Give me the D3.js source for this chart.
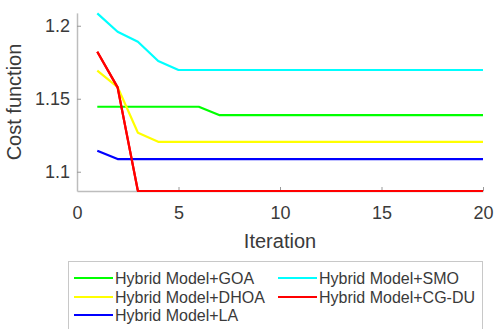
<!DOCTYPE html>
<html><head><meta charset="utf-8">
<script src="https://cdn.jsdelivr.net/npm/d3@7"></script>
<style>body{margin:0;background:#fff}svg{display:block}text{font-family:"Liberation Sans",Arial,sans-serif}</style>
</head><body>
<script>
const iterations = d3.range(1, 21);
const seriesNames = ["Hybrid Model+GOA","Hybrid Model+SMO","Hybrid Model+DHOA","Hybrid Model+CG-DU","Hybrid Model+LA"];
const seriesColors = ["#00ff00","#00ffff","#ffff00","#ff0000","#0000ff"];
const goa  = [1.1445,1.1445,1.1445,1.1445,1.1445,1.1445,1.1388,1.1388,1.1388,1.1388,1.1388,1.1388,1.1388,1.1388,1.1388,1.1388,1.1388,1.1388,1.1388,1.1388];
const smo  = [1.2085,1.1959,1.189,1.1758,1.1697,1.1697,1.1697,1.1697,1.1697,1.1697,1.1697,1.1697,1.1697,1.1697,1.1697,1.1697,1.1697,1.1697,1.1697,1.1697];
const dhoa = [1.1692,1.158,1.1267,1.1205,1.1205,1.1205,1.1205,1.1205,1.1205,1.1205,1.1205,1.1205,1.1205,1.1205,1.1205,1.1205,1.1205,1.1205,1.1205,1.1205];
const cgdu = [1.1822,1.1578,1.0868,1.0868,1.0868,1.0868,1.0868,1.0868,1.0868,1.0868,1.0868,1.0868,1.0868,1.0868,1.0868,1.0868,1.0868,1.0868,1.0868,1.0868];
const la   = [1.1144,1.1087,1.1087,1.1087,1.1087,1.1087,1.1087,1.1087,1.1087,1.1087,1.1087,1.1087,1.1087,1.1087,1.1087,1.1087,1.1087,1.1087,1.1087,1.1087];
const seriesValues = [goa, smo, dhoa, cgdu, la];
const xTicks = [0,5,10,15,20];
const yTicks = [1.1,1.15,1.2];
const yTickLabels = ["1.1","1.15","1.2"];

const W = 496, H = 329;
const svg = d3.select("body").append("svg").attr("width", W).attr("height", H);
const x = d3.scaleLinear().domain([0,20]).range([77,483]);
const y = d3.scaleLinear().domain([1.0868,1.2088]).range([191,12.9]);
const axisColor = "#bdbdbd", textColor = "#3a3a3a";

// lines
const line = d3.line().x((d,i)=>x(iterations[i])).y(d=>y(d));
seriesValues.forEach((vals,k)=>{
  svg.append("path").datum(vals).attr("d", line).attr("fill","none")
    .attr("stroke", seriesColors[k]).attr("stroke-width", 2.2).attr("stroke-linejoin","round");
});
// draw red last? Order in original: red drawn over others
// axes
const xAxis = svg.append("g").attr("transform", `translate(0,${y.range()[0]})`)
  .call(d3.axisBottom(x).tickValues(xTicks).tickSizeInner(-4).tickSizeOuter(0).tickPadding(15));
const yAxis = svg.append("g").attr("transform", `translate(${x.range()[0]},0)`)
  .call(d3.axisLeft(y).tickValues(yTicks).tickFormat((d,i)=>yTickLabels[i]).tickSizeInner(-4).tickSizeOuter(0).tickPadding(7));
[xAxis, yAxis].forEach(g=>{
  g.select(".domain").attr("stroke", axisColor).attr("stroke-width", 1.5);
  g.selectAll(".tick line").attr("stroke", "#999").attr("stroke-width", 1);
  g.selectAll(".tick text").attr("fill", textColor).style("font-size","18px").style("font-family",'"Liberation Sans",Arial,sans-serif');
});
// redraw red line above axis
svg.append("path").datum(cgdu).attr("d", line).attr("fill","none")
  .attr("stroke", seriesColors[3]).attr("stroke-width", 2.2).attr("stroke-linejoin","round");

svg.append("text").attr("x", 280).attr("y", 248).attr("text-anchor","middle")
  .attr("fill", textColor).style("font-size","20px").text("Iteration");
svg.append("text").attr("transform","translate(21,102) rotate(-90)").attr("text-anchor","middle")
  .attr("fill", textColor).style("font-size","20px").text("Cost function");

// legend
const lg = svg.append("g");
lg.append("rect").attr("x",68.5).attr("y",261.5).attr("width",414).attr("height",75)
  .attr("fill","#fff").attr("stroke","#c8c8c8").attr("stroke-width",1);
const legPos = [[74,278],[278,278],[74,297],[278,297],[74,315]];
seriesNames.forEach((n,k)=>{
  const [lx,ly] = legPos[k];
  lg.append("line").attr("x1",lx).attr("x2",lx+39).attr("y1",ly).attr("y2",ly)
    .attr("stroke",seriesColors[k]).attr("stroke-width",2.2);
  lg.append("text").attr("x",lx+41).attr("y",ly+6).attr("fill",textColor)
    .style("font-size","16px").text(n);
});
</script>
</body></html>
